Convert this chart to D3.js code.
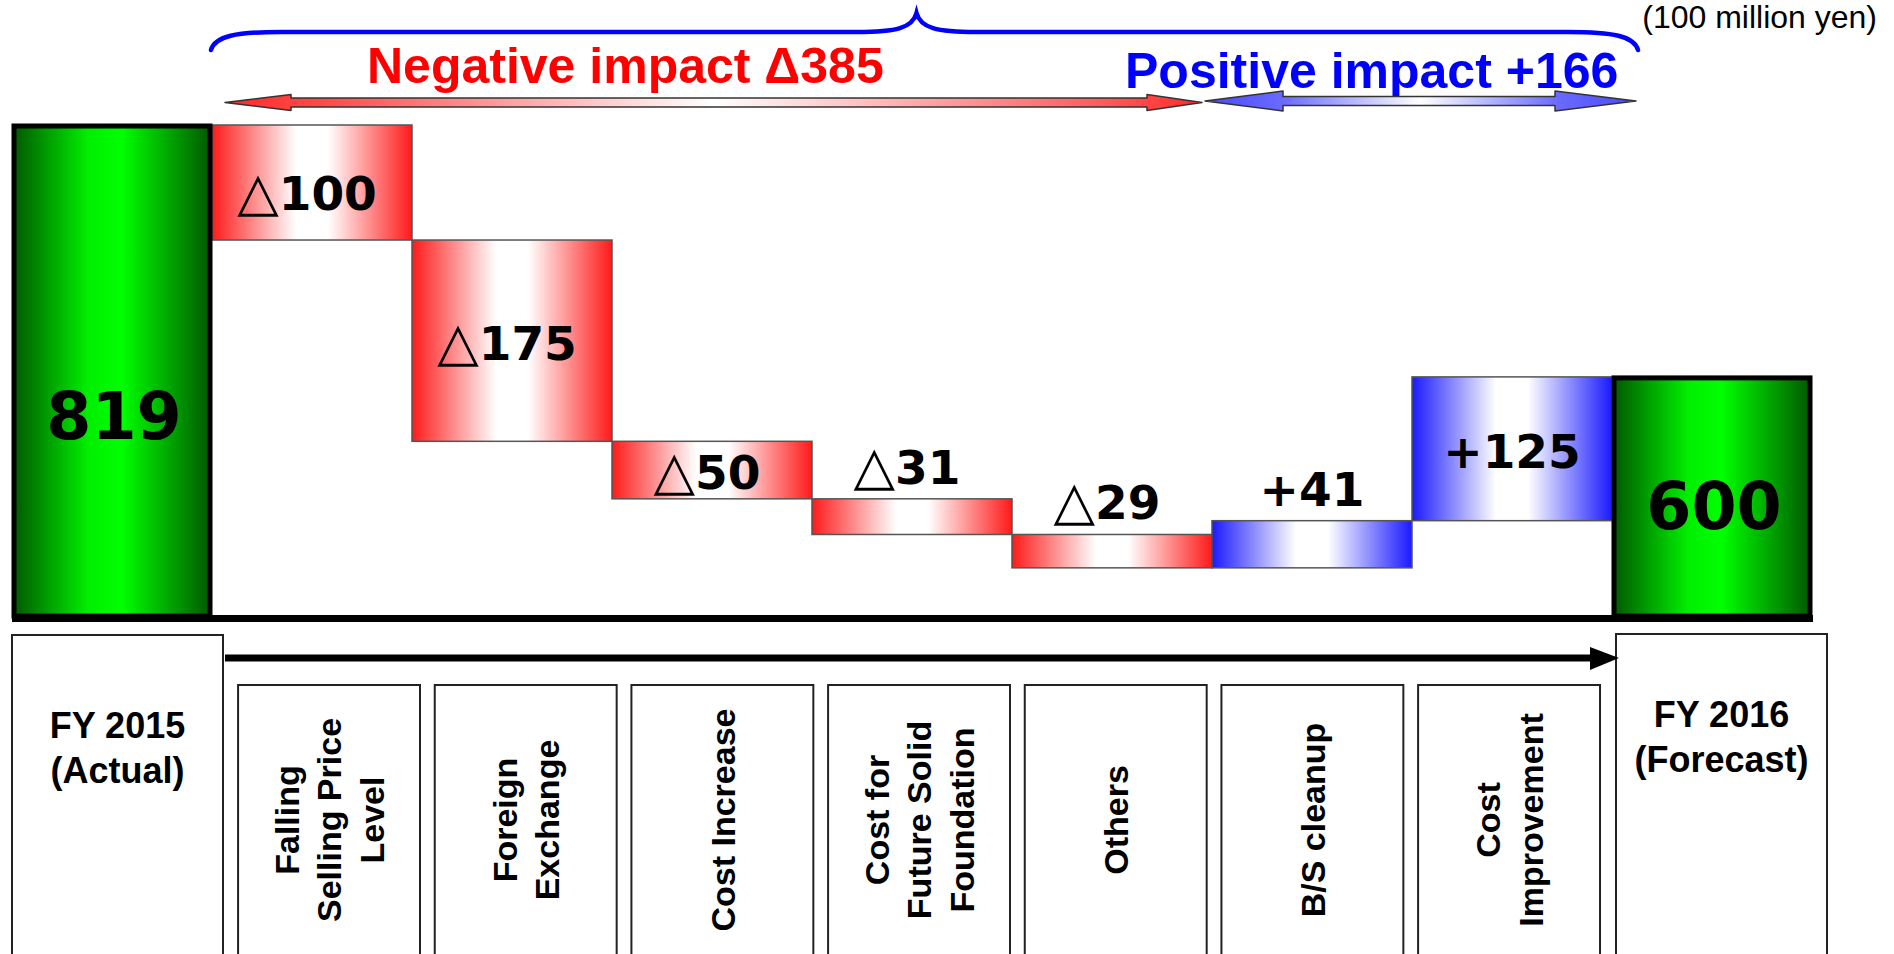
<!DOCTYPE html>
<html><head><meta charset="utf-8">
<script src="https://cdn.jsdelivr.net/npm/d3@7"></script>
<style>html,body{margin:0;padding:0;background:#fff;} svg{display:block;}</style>
</head><body>
<svg id="chart" width="1894" height="954"></svg>
<script>
// ---------------- data ----------------
const categories = ["FY 2015 (Actual)", "Falling Selling Price Level", "Foreign Exchange", "Cost Increase",
  "Cost for Future Solid Foundation", "Others", "B/S cleanup", "Cost Improvement", "FY 2016 (Forecast)"];
const categoryLines = [["FY 2015", "(Actual)"], ["Falling", "Selling Price", "Level"], ["Foreign", "Exchange"],
  ["Cost Increase"], ["Cost for", "Future Solid", "Foundation"], ["Others"], ["B/S cleanup"],
  ["Cost", "Improvement"], ["FY 2016", "(Forecast)"]];
const barTypes = ["total", "delta", "delta", "delta", "delta", "delta", "delta", "delta", "total"];
const values = [819, -100, -175, -50, -31, -29, 41, 125, 600];
const impactNames = ["Negative impact", "Positive impact"];
const impactTotals = [-385, 166];
const unitLabel = "(100 million yen)";
const axisDomain = [393, 819];   // broken value axis, as drawn in the original

// ---------------- layout ----------------
const svg = d3.select("#chart");
const W = 1894, H = 954;
const x = d3.scaleBand().domain(d3.range(values.length)).range([12, 1812]).padding(0);
const y = d3.scaleLinear().domain(axisDomain).range([615, 125]);
const xl = d3.scaleBand().domain(d3.range(1, values.length - 1)).range([230.7, 1607.4])
  .paddingInner(0.075).paddingOuter(0.0375);

const fmt = v => v < 0 ? "\u25B3" + Math.abs(v) : "+" + v;

// waterfall geometry
let run = 0;
const bars = values.map((v, i) => {
  let b;
  if (barTypes[i] === "total") { b = { i, v, lo: axisDomain[0], hi: v, type: "total" }; run = v; }
  else { b = { i, v, lo: Math.min(run, run + v), hi: Math.max(run, run + v), type: v < 0 ? "neg" : "pos" }; run += v; }
  return b;
});

// gradients
const defs = svg.append("defs");
function hGrad(id, stops) {
  const g = defs.append("linearGradient").attr("id", id).attr("x1", "0%").attr("x2", "100%").attr("y1", "0%").attr("y2", "0%");
  stops.forEach(([o, c]) => g.append("stop").attr("offset", o).attr("stop-color", c));
}
hGrad("gNeg", [[0, "#ff1a1a"], [0.42, "#ffffff"], [0.58, "#ffffff"], [1, "#ff1a1a"]]);
hGrad("gPos", [[0, "#1a1aff"], [0.42, "#ffffff"], [0.58, "#ffffff"], [1, "#1a1aff"]]);
hGrad("gTot", [[0, "#005a00"], [0.38, "#00f000"], [0.55, "#00ff00"], [1, "#005a00"]]);
hGrad("gArrR", [[0, "#ff2a2a"], [0.1, "#ff4a4a"], [0.5, "#ffffff"], [0.9, "#ff5a5a"], [1, "#ff2a2a"]]);
hGrad("gArrB", [[0, "#4a4aff"], [0.18, "#6a6aff"], [0.5, "#ffffff"], [0.82, "#6a6aff"], [1, "#4a4aff"]]);

// ---------------- bars ----------------
const g = svg.append("g");
g.selectAll("rect.delta").data(bars.filter(b => b.type !== "total")).join("rect")
  .attr("class", "delta")
  .attr("x", b => x(b.i)).attr("width", x.bandwidth())
  .attr("y", b => y(b.hi)).attr("height", b => y(b.lo) - y(b.hi))
  .attr("fill", b => b.type === "neg" ? "url(#gNeg)" : "url(#gPos)")
  .attr("stroke", "#555").attr("stroke-width", 1.5);

g.selectAll("rect.total").data(bars.filter(b => b.type === "total")).join("rect")
  .attr("class", "total")
  .attr("x", b => x(b.i) + 2).attr("width", x.bandwidth() - 4)
  .attr("y", b => y(b.hi) + 1).attr("height", b => y(b.lo) - y(b.hi))
  .attr("fill", "url(#gTot)")
  .attr("stroke", "#000").attr("stroke-width", 5);

// baseline
svg.append("line").attr("x1", x(0)).attr("x2", x(values.length - 1) + x.bandwidth() + 1)
  .attr("y1", y(axisDomain[0]) + 3.5).attr("y2", y(axisDomain[0]) + 3.5)
  .attr("stroke", "#000").attr("stroke-width", 7);

// value labels
const lab = svg.append("g").attr("font-family", "'DejaVu Sans', Verdana, sans-serif").attr("font-weight", "bold").attr("fill", "#000");
bars.forEach(b => {
  const cx = x(b.i) + x.bandwidth() / 2;
  const top = y(b.hi), bot = y(b.lo);
  if (b.type === "total") {
    lab.append("text").attr("x", cx + 2).attr("y", top + (bot - top) * 0.64)
      .attr("text-anchor", "middle").attr("font-size", 65).text(String(b.v));
    return;
  }
  const h = bot - top;
  const inside = h > 50;
  const by = inside ? (top + bot) / 2 + 19 + (h < 120 && h > 100 ? 8 : 0) : top - 15;
  const t = lab.append("text").attr("x", b.v < 0 ? cx - 5 : cx).attr("y", by).attr("text-anchor", "middle").attr("font-size", 47);
  const s = fmt(b.v);
  if (b.v < 0) {
    t.append("tspan").attr("font-family", "'DejaVu Sans', sans-serif").attr("font-weight", "normal")
      .attr("font-size", 54).text(s[0]);
    t.append("tspan").text(s.slice(1));
  } else {
    t.text(s);
  }
});

// ---------------- top annotations ----------------
svg.append("text").attr("x", 1877).attr("y", 28).attr("text-anchor", "end")
  .attr("font-family", "'Liberation Sans', Arial, sans-serif").attr("font-size", 32).attr("fill", "#000")
  .text(unitLabel);

svg.append("text").attr("x", 367).attr("y", 83)
  .attr("font-family", "'Liberation Sans', Arial, sans-serif").attr("font-weight", "bold").attr("font-size", 50)
  .attr("fill", "#ff0000").text(impactNames[0] + " \u0394" + Math.abs(impactTotals[0]));
svg.append("text").attr("x", 1125).attr("y", 88)
  .attr("font-family", "'Liberation Sans', Arial, sans-serif").attr("font-weight", "bold").attr("font-size", 50)
  .attr("fill", "#0000ff").text(impactNames[1] + " +" + impactTotals[1]);

// brace
const bx0 = x(1) - 1, bx1 = x(values.length - 1) + 26, bmid = (bx0 + bx1) / 2 - 8;
svg.append("path")
  .attr("d", `M${bx0},50 C${bx0 + 4},36 ${bx0 + 25},32 ${bx0 + 70},32 L${bmid - 60},32 C${bmid - 20},32 ${bmid - 4},28 ${bmid},13 C${bmid + 4},28 ${bmid + 20},32 ${bmid + 60},32 L${bx1 - 70},32 C${bx1 - 25},32 ${bx1 - 4},36 ${bx1},50`)
  .attr("fill", "none").attr("stroke", "#0000ff").attr("stroke-width", 4.5).attr("stroke-linecap", "round");

// double arrows
function dblArrow(x0, x1, yc, sh, hh, hl0, hl1) {
  return `M${x0},${yc} L${x0 + hl0},${yc - hh / 2} L${x0 + hl0},${yc - sh / 2} L${x1 - hl1},${yc - sh / 2} L${x1 - hl1},${yc - hh / 2} L${x1},${yc} L${x1 - hl1},${yc + hh / 2} L${x1 - hl1},${yc + sh / 2} L${x0 + hl0},${yc + sh / 2} L${x0 + hl0},${yc + hh / 2} Z`;
}
svg.append("path").attr("d", dblArrow(x(1) + 13, x(6) - 10, 102.5, 9, 16, 66, 55))
  .attr("fill", "url(#gArrR)").attr("stroke", "#333").attr("stroke-width", 1.5).attr("stroke-linejoin", "round");
svg.append("path").attr("d", dblArrow(x(6) - 7, x(8) + 24, 101, 9, 20, 78, 81))
  .attr("fill", "url(#gArrB)").attr("stroke", "#333").attr("stroke-width", 1.5).attr("stroke-linejoin", "round");

// ---------------- lower category boxes ----------------
const low = svg.append("g");
const boxFont = "'Liberation Sans', Arial, sans-serif";
// total boxes
[[0, x(0), 211, 635], [values.length - 1, x(values.length - 1) + 4, 211, 634]].forEach(([i, bx, bw, by]) => {
  low.append("rect").attr("x", bx).attr("y", by).attr("width", bw).attr("height", H - by + 20)
    .attr("fill", "#fff").attr("stroke", "#222").attr("stroke-width", 2);
  const lines = categoryLines[i];
  const t = low.append("text").attr("text-anchor", "middle").attr("font-family", boxFont)
    .attr("font-weight", "bold").attr("font-size", 36).attr("fill", "#000");
  const y0 = i === 0 ? 738 : 727;
  lines.forEach((ln, k) => t.append("tspan").attr("x", bx + bw / 2).attr("y", y0 + k * 44.5).text(ln));
});
// delta boxes
d3.range(1, values.length - 1).forEach(i => {
  const bx = xl(i), bw = xl.bandwidth();
  low.append("rect").attr("x", bx).attr("y", 685).attr("width", bw).attr("height", H - 685 + 20)
    .attr("fill", "#fff").attr("stroke", "#222").attr("stroke-width", 2);
  const lines = categoryLines[i];
  const n = lines.length, lh = 42.5, cap = 24.5;
  const gt = low.append("g").attr("transform", `translate(${bx + bw / 2},820) rotate(-90)`);
  lines.forEach((ln, k) => {
    gt.append("text").attr("x", 0).attr("y", (k - (n - 1) / 2) * lh + cap / 2)
      .attr("text-anchor", "middle").attr("font-family", boxFont).attr("font-weight", "bold")
      .attr("font-size", 34).attr("fill", "#000").text(ln);
  });
});
// process arrow
const ax0 = x(0) + 213, ax1 = x(values.length - 1) + 7;
low.append("line").attr("x1", ax0).attr("x2", ax1 - 26).attr("y1", 658).attr("y2", 658)
  .attr("stroke", "#000").attr("stroke-width", 7);
low.append("path").attr("d", `M${ax1 - 29},647 L${ax1},658 L${ax1 - 29},670 Z`).attr("fill", "#000");
</script>
</body></html>
